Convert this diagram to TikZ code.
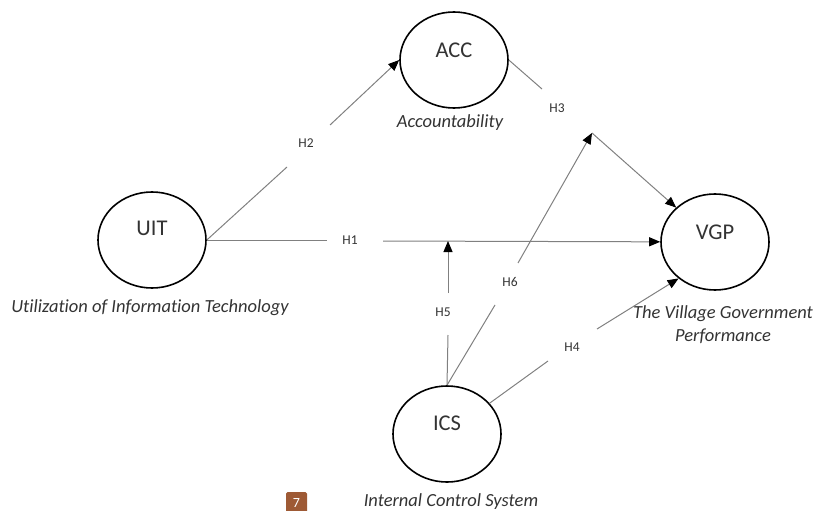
\documentclass[tikz,border=0pt]{standalone}
\usepackage{fontspec}
\setmainfont{Carlito}[Ligatures=NoCommon]
\usetikzlibrary{shapes.geometric,arrows.meta}
\definecolor{lncol}{HTML}{808080}
\definecolor{txtcol}{HTML}{333333}
\definecolor{pagecol}{HTML}{9E5A35}
\tikzset{
  cons/.style={ellipse,draw=black,line width=1.6pt,minimum width=108pt,minimum height=96pt,inner sep=0pt},
  constext/.style={font=\fontsize{22.5}{24}\selectfont,text=txtcol},
  desc/.style={font=\fontsize{18.5}{23}\selectfont\itshape,text=txtcol,align=center,inner sep=0pt},
  hyp/.style={font=\fontsize{13.5}{15}\selectfont,text=txtcol,inner sep=0pt},
  ln/.style={draw=lncol,line width=1pt},
  arr/.style={ln,-{Triangle[length=11pt,width=9pt,color=black]}},
}
\begin{document}
\begin{tikzpicture}[x=1pt,y=-1pt]
\useasboundingbox (0,0) rectangle (816,511);
% constructs
\node[cons] (acc) at (454,60) {};
\node[constext] (acct) at (454,50) {ACC};
\node[cons] (uit) at (152,240) {};
\node[constext] (uitt) at (152,228) {UIT};
\node[cons] (vgp) at (715,242) {};
\node[constext] (vgpt) at (715,232) {VGP};
\node[cons] (ics) at (447,434) {};
\node[constext] (icst) at (447,423) {ICS};
% descriptions
\node[desc] (accd) at (450,123) {Accountability};
\node[desc] (uitd) at (150,308) {Utilization of Information Technology};
\node[desc] (vgpd) at (723,325) {The Village Government\\Performance};
\node[desc] (icsd) at (451,502) {Internal Control System};
% gap points and moderation points
\coordinate (m1) at (448,241);
\coordinate (m3) at (592,133);
\coordinate (h1a) at (327,240); \node[hyp] (h1) at (350,240) {H1}; \coordinate (h1b) at (383,241);
\coordinate (h2a) at (287,167); \node[hyp] (h2) at (306,143) {H2}; \coordinate (h2b) at (330,125);
\coordinate (h3a) at (542,89);  \node[hyp] (h3) at (557,108) {H3};
\coordinate (h4a) at (548,361); \node[hyp] (h4) at (572,347) {H4}; \coordinate (h4b) at (597,329);
\coordinate (h5a) at (448,335); \node[hyp] (h5) at (443,312) {H5}; \coordinate (h5b) at (448,293);
\coordinate (h6a) at (495,305); \node[hyp] (h6) at (510,282) {H6}; \coordinate (h6b) at (518,263);
% H1
\draw[ln] (uit.east) -- (h1a);
\draw[arr] (h1b) -- (vgp);
% H2
\draw[ln] (uit.east) -- (h2a);
\draw[arr] (h2b) -- (acc.west);
% H3
\draw[ln] (acc.east) -- (h3a);
\draw[arr] (m3) -- (vgp);
% H4
\draw[ln] (ics) -- (h4a);
\draw[arr] (h4b) -- (vgp.225);
% H5
\draw[ln] (ics.north) -- (h5a);
\draw[arr] (h5b) -- (m1);
% H6
\draw[ln] (ics.north) -- (h6a);
\draw[arr] (h6b) -- (m3);
% page badge
\node[fill=pagecol,rounded corners=1.5pt,minimum width=21pt,minimum height=22pt,inner sep=0pt,text=white,font=\fontsize{14}{16}\selectfont] (page) at (296.5,503) {7};
\end{tikzpicture}
\end{document}
